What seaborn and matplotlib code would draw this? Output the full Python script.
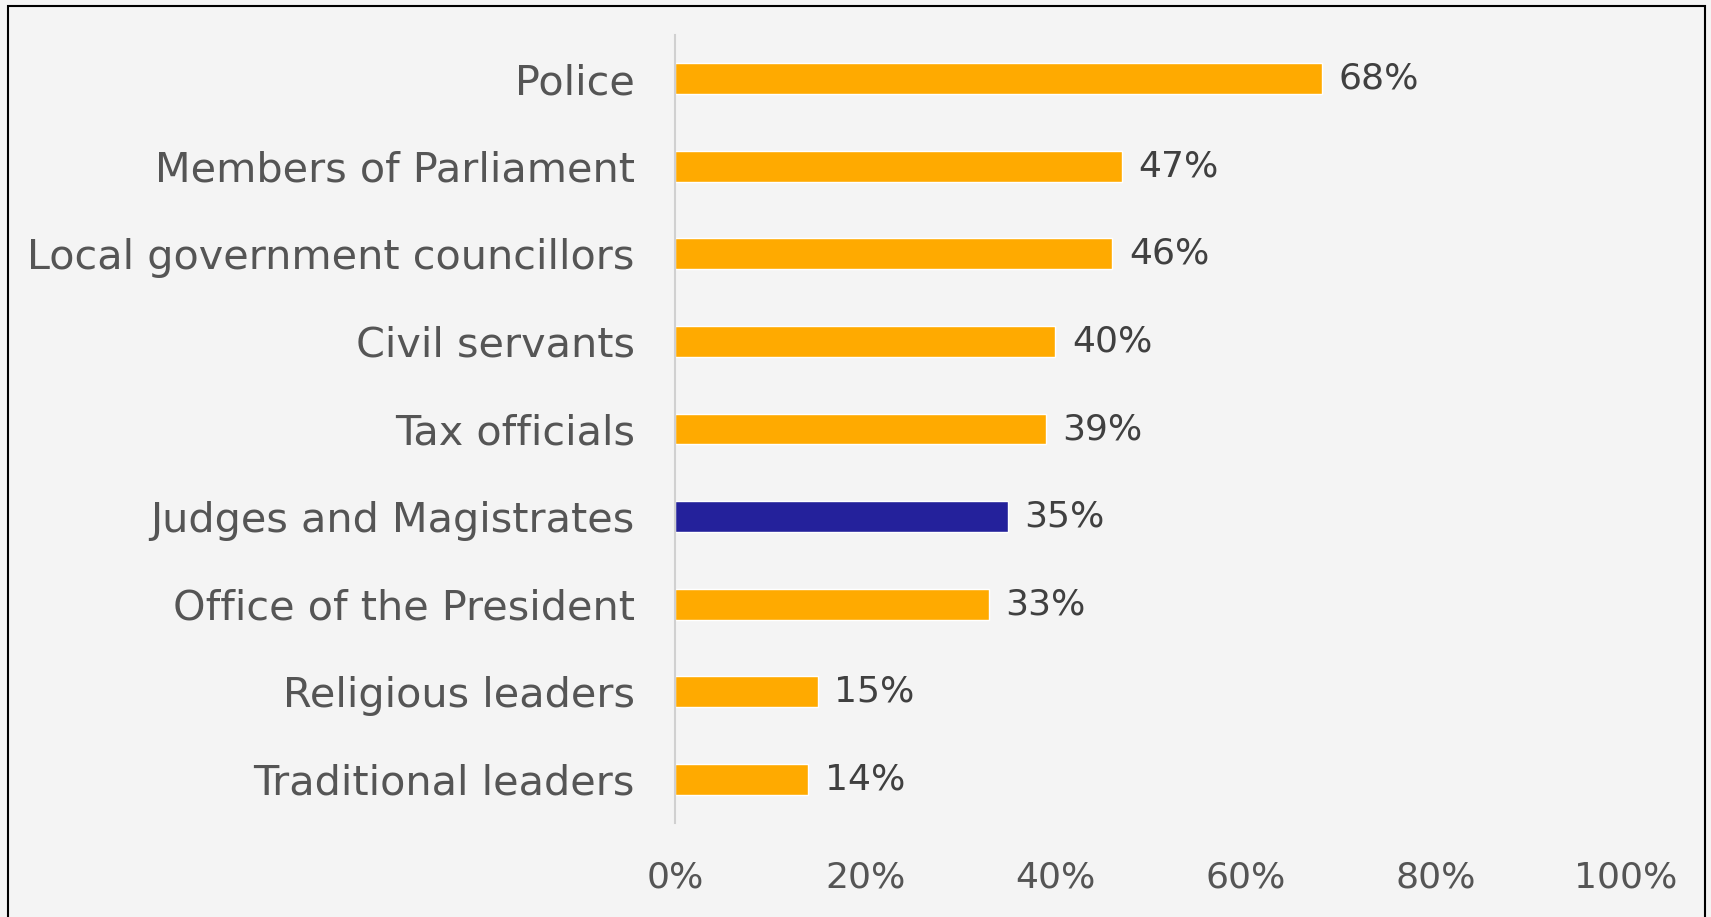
# Horizontal bar chart: share of people who think most/all of each group are corrupt
import pandas as pd
import seaborn as sns
import matplotlib.pyplot as plt
from matplotlib.patches import Rectangle

# Chart data
institutions = ["Police", "Members of Parliament", "Local government councillors",
                "Civil servants", "Tax officials", "Judges and Magistrates",
                "Office of the President", "Religious leaders", "Traditional leaders"]
shares = [0.68, 0.47, 0.46, 0.40, 0.39, 0.35, 0.33, 0.15, 0.14]
highlight = "Judges and Magistrates"

x_ticks = [0, 0.2, 0.4, 0.6, 0.8, 1.0]
x_tick_labels = ["0%", "20%", "40%", "60%", "80%", "100%"]

df = pd.DataFrame({"institution": institutions, "share": shares})

# Orange bars, the highlighted group in navy
orange = "#FFAA00"
navy = "#24219B"
palette = {name: (navy if name == highlight else orange) for name in institutions}

sns.set_style("white")
plt.rcParams['font.family'] = ['DejaVu Sans']

fig = plt.figure(figsize=(17.11, 9.17), dpi=100, facecolor="#f4f4f4")
ax = fig.add_axes([0.3945, 0.1025, 0.5558, 0.8593])
ax.set_facecolor("none")

sns.barplot(data=df, x="share", y="institution", hue="institution",
            palette=palette, order=institutions, width=0.353,
            legend=False, ax=ax, saturation=1)

# Value labels at the end of each bar
for container in ax.containers:
    ax.bar_label(container, labels=[f"{v * 100:.0f}%" for v in container.datavalues],
                 padding=12, fontsize=26, color="#404040")

ax.set_xlim(0, 1)
ax.set_xticks(x_ticks)
ax.set_xticklabels(x_tick_labels)
ax.set_xlabel("")
ax.set_ylabel("")

ax.tick_params(axis="y", length=0, pad=29, labelsize=29.8, labelcolor="#555555")
ax.tick_params(axis="x", length=0, pad=27, labelsize=26, labelcolor="#555555")

# Only the left axis line is visible
for side in ["top", "right", "bottom"]:
    ax.spines[side].set_visible(False)
ax.spines["left"].set_color("#d0d0d0")
ax.spines["left"].set_linewidth(1.5)

# Black frame around the slide area
frame = Rectangle((8 / 1711, -0.02), (1705 - 8) / 1711, 1 - 6 / 917 + 0.02,
                  transform=fig.transFigure, fill=False, edgecolor="black",
                  linewidth=1.5, clip_on=False)
fig.patches.append(frame)

plt.savefig("out.png", dpi=100, facecolor=fig.get_facecolor())
